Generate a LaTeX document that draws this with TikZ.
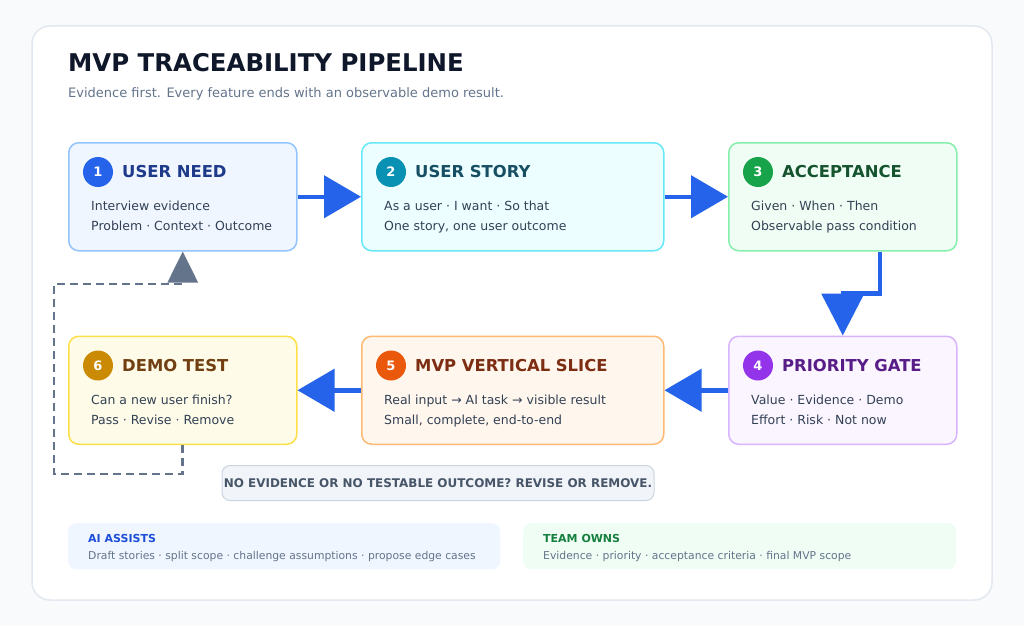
\documentclass[tikz,border=0pt]{standalone}
\usepackage{fontspec}
\setmainfont{DejaVu Sans}
\usetikzlibrary{arrows.meta}
\definecolor{pagebg}{HTML}{F8FAFC}
\definecolor{cardline}{HTML}{E2E8F0}
\definecolor{titlecol}{HTML}{0F172A}
\definecolor{subcol}{HTML}{64748B}
\definecolor{bodycol}{HTML}{334155}
\definecolor{arrowblue}{HTML}{2563EB}
\definecolor{loopgray}{HTML}{64748B}
% stage colours
\definecolor{cAfill}{HTML}{EFF6FF}\definecolor{cAline}{HTML}{93C5FD}\definecolor{cAbadge}{HTML}{2563EB}\definecolor{cAhead}{HTML}{1E3A8A}
\definecolor{cBfill}{HTML}{ECFEFF}\definecolor{cBline}{HTML}{67E8F9}\definecolor{cBbadge}{HTML}{0891B2}\definecolor{cBhead}{HTML}{164E63}
\definecolor{cCfill}{HTML}{F0FDF4}\definecolor{cCline}{HTML}{86EFAC}\definecolor{cCbadge}{HTML}{16A34A}\definecolor{cChead}{HTML}{14532D}
\definecolor{cDfill}{HTML}{FAF5FF}\definecolor{cDline}{HTML}{D8B4FE}\definecolor{cDbadge}{HTML}{9333EA}\definecolor{cDhead}{HTML}{581C87}
\definecolor{cEfill}{HTML}{FFF7ED}\definecolor{cEline}{HTML}{FDBA74}\definecolor{cEbadge}{HTML}{EA580C}\definecolor{cEhead}{HTML}{7C2D12}
\definecolor{cFfill}{HTML}{FEFCE8}\definecolor{cFline}{HTML}{FDE047}\definecolor{cFbadge}{HTML}{CA8A04}\definecolor{cFhead}{HTML}{713F12}
\definecolor{notefill}{HTML}{F1F5F9}\definecolor{noteline}{HTML}{CBD5E1}\definecolor{notetext}{HTML}{475569}
\definecolor{aifill}{HTML}{EFF6FF}\definecolor{aihead}{HTML}{1D4ED8}
\definecolor{teamfill}{HTML}{F0FDF4}\definecolor{teamhead}{HTML}{15803D}

\newcommand\stagebox[9]{%
  \node[stagebox, fill=#5fill, draw=#5line, minimum width=#4, anchor=north west] (#1) at (#2,#3) {};
  \node[badge, fill=#5badge] (#1n) at (#2+30,#3+30) {#6};
  \node[headtxt, text=#5head] (#1h) at (#2+54,#3+35.8) {#7};
  \node[bodytxt] (#1a) at (#2+23,#3+68.5) {#8};
  \node[bodytxt] (#1b) at (#2+23,#3+88.5) {#9};
}

\begin{document}
\begin{tikzpicture}[x=1pt,y=-1pt,
  stagebox/.style={rectangle, rounded corners=10pt, line width=1.5pt, minimum height=108pt, inner sep=0pt},
  badge/.style={circle, minimum size=30pt, inner sep=0pt, text=white, font=\bfseries\fontsize{13}{15}\selectfont},
  headtxt/.style={anchor=base west, inner sep=0pt, font=\bfseries\fontsize{16.4}{19}\selectfont},
  bodytxt/.style={anchor=base west, inner sep=0pt, text=bodycol, font=\fontsize{12.5}{15}\selectfont},
  flow/.style={draw=arrowblue, line width=4.5pt, -{Triangle[length=37pt,width=42pt]}},
  loopline/.style={draw=loopgray, line width=2.7pt, dash pattern=on 8pt off 5pt, -{Triangle[length=31pt,width=30pt]}},
]
\useasboundingbox (0,0) rectangle (1024,626);
\fill[pagebg] (0,0) rectangle (1024,626);
\draw[cardline, line width=1.5pt, fill=white, rounded corners=18pt] (32,26) rectangle (992,600);

\node[anchor=base west, inner sep=0pt, text=titlecol, font=\bfseries\fontsize{24.4}{28}\selectfont] (title) at (68,71) {MVP TRACEABILITY PIPELINE};
\node[anchor=base west, inner sep=0pt, text=subcol, font=\fontsize{13}{16}\selectfont] (subtitle) at (68,97) {Evidence first. Every feature ends with an observable demo result.};

\stagebox{s1}{68}{142}{228}{cA}{1}{USER NEED}{Interview evidence}{Problem · Context · Outcome}
\stagebox{s2}{361}{142}{302}{cB}{2}{USER STORY}{As a user · I want · So that}{One story, one user outcome}
\stagebox{s3}{728}{142}{228}{cC}{3}{ACCEPTANCE}{Given · When · Then}{Observable pass condition}
\stagebox{s4}{728}{335.5}{228}{cD}{4}{PRIORITY GATE}{Value · Evidence · Demo}{Effort · Risk · Not now}
\stagebox{s5}{361}{335.5}{302}{cE}{5}{MVP VERTICAL SLICE}{Real input → AI task → visible result}{Small, complete, end-to-end}
\stagebox{s6}{68}{335.5}{228}{cF}{6}{DEMO TEST}{Can a new user finish?}{Pass · Revise · Remove}

\draw[flow] (s1.east) -- (s2.west);
\draw[flow] (s2.east) -- (s3.west);
\draw[flow, -{Triangle[length=42pt,width=42pt]}] ([xshift=37pt]s3.south) -- ++(0,42) -| (s4.north);
\draw[flow] (s4.west) -- (s5.east);
\draw[flow] (s5.west) -- (s6.east);

\coordinate (lpA) at (54,474);
\coordinate (lpB) at (54,284);
\draw[loopline] (s6.south) |- (lpA) -- (lpB) -| (s1.south);

\node[rectangle, rounded corners=8pt, fill=notefill, draw=noteline, line width=1pt, minimum width=432pt, minimum height=35pt, inner sep=0pt, text=notetext, font=\bfseries\fontsize{11.95}{14}\selectfont] (note) at (438,483) {NO EVIDENCE OR NO TESTABLE OUTCOME? REVISE OR REMOVE.};

\node[rectangle, rounded corners=8pt, fill=aifill, minimum width=432pt, minimum height=46pt, anchor=north west, inner sep=0pt] (ai) at (68,523) {};
\node[anchor=base west, inner sep=0pt, text=aihead, font=\bfseries\fontsize{11}{13}\selectfont] (aih) at (88,542) {AI ASSISTS};
\node[anchor=base west, inner sep=0pt, text=subcol, font=\fontsize{10.8}{13}\selectfont] (aib) at (88,559.5) {Draft stories · split scope · challenge assumptions · propose edge cases};

\node[rectangle, rounded corners=8pt, fill=teamfill, minimum width=433pt, minimum height=46pt, anchor=north west, inner sep=0pt] (team) at (523,523) {};
\node[anchor=base west, inner sep=0pt, text=teamhead, font=\bfseries\fontsize{11}{13}\selectfont] (teamh) at (543,542) {TEAM OWNS};
\node[anchor=base west, inner sep=0pt, text=subcol, font=\fontsize{10.8}{13}\selectfont] (teamb) at (543,559.5) {Evidence · priority · acceptance criteria · final MVP scope};
\end{tikzpicture}
\end{document}
